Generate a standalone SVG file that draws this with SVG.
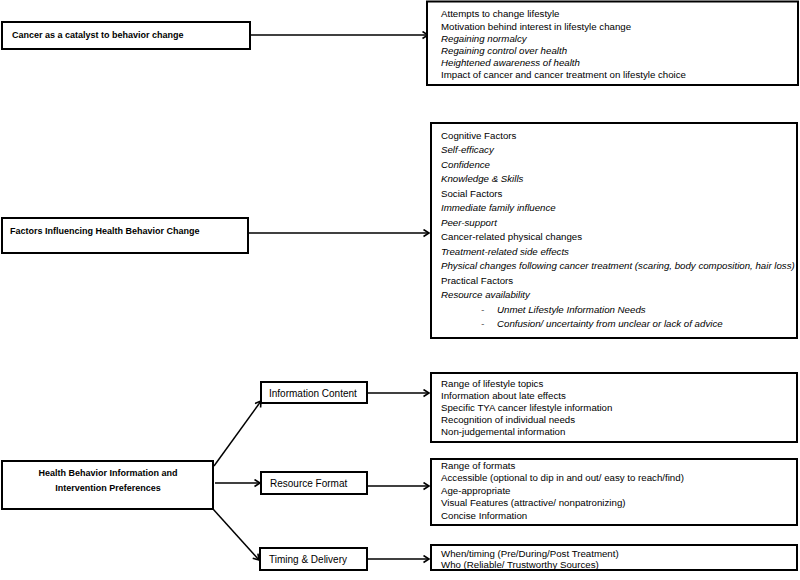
<svg xmlns="http://www.w3.org/2000/svg" width="800" height="580" viewBox="0 0 800 580">
<style>
.box{fill:#fff;stroke:#000;stroke-width:2}
.t{font-family:"Liberation Sans",Arial,sans-serif;font-size:9.7px;fill:#000}
.i{font-style:italic}
.b{font-family:"Liberation Sans",Arial,sans-serif;font-size:9px;font-weight:bold;fill:#000}
.s{font-family:"Liberation Sans",Arial,sans-serif;font-size:10px;fill:#000}
.c{stroke:#000;stroke-width:1.5;fill:none;marker-end:url(#ah)}
</style>
<defs>
<marker id="ah" markerUnits="userSpaceOnUse" markerWidth="10" markerHeight="10" refX="6.5" refY="4" orient="auto">
<path d="M1,0.5 L6.5,4 L1,7.5" fill="none" stroke="#000" stroke-width="1.6"/>
</marker>
</defs>
<rect width="800" height="580" fill="#fff"/>
<g id="connectors">
<line class="c" x1="250" y1="35" x2="428" y2="35"/>
<line class="c" x1="248" y1="233" x2="429" y2="233"/>
<line class="c" x1="214" y1="466" x2="261" y2="401"/>
<line class="c" x1="215" y1="483" x2="260" y2="483"/>
<line class="c" x1="213" y1="509" x2="259" y2="560"/>
<line class="c" x1="367" y1="393" x2="429" y2="393"/>
<line class="c" x1="367" y1="486" x2="429" y2="486"/>
<line class="c" x1="367" y1="559" x2="429" y2="559"/>
</g>
<g id="n-catalyst">
<rect class="box" x="2" y="22" width="248" height="27"/>
<text class="b" x="12" y="37.5">Cancer as a catalyst to behavior change</text>
</g>
<g id="n-catalyst-detail">
<rect class="box" x="427" y="1.5" width="371" height="83.5"/>
<text class="t" x="441" y="17">Attempts to change lifestyle</text>
<text class="t" x="441" y="29.5">Motivation behind interest in lifestyle change</text>
<text class="t i" x="441" y="41.5">Regaining normalcy</text>
<text class="t i" x="441" y="53.5">Regaining control over health</text>
<text class="t i" x="441" y="65.5">Heightened awareness of health</text>
<text class="t" x="441" y="77.5">Impact of cancer and cancer treatment on lifestyle choice</text>
</g>
<g id="n-factors">
<rect class="box" x="2" y="218" width="246" height="35"/>
<text class="b" x="10" y="233.5">Factors Influencing Health Behavior Change</text>
</g>
<g id="n-factors-detail">
<rect class="box" x="431" y="123" width="366" height="215"/>
<text class="t" x="441" y="138.5">Cognitive Factors</text>
<text class="t i" x="441" y="153">Self-efficacy</text>
<text class="t i" x="441" y="167.5">Confidence</text>
<text class="t i" x="441" y="182">Knowledge &amp; Skills</text>
<text class="t" x="441" y="196.5">Social Factors</text>
<text class="t i" x="441" y="211">Immediate family influence</text>
<text class="t i" x="441" y="225.5">Peer-support</text>
<text class="t" x="441" y="240">Cancer-related physical changes</text>
<text class="t i" x="441" y="254.5">Treatment-related side effects</text>
<text class="t i" x="441" y="269">Physical changes following cancer treatment (scaring, body composition, hair loss)</text>
<text class="t" x="441" y="283.5">Practical Factors</text>
<text class="t i" x="441" y="298">Resource availability</text>
<text class="t i" x="481" y="312.5">-</text>
<text class="t i" x="497" y="312.5">Unmet Lifestyle Information Needs</text>
<text class="t i" x="481" y="327">-</text>
<text class="t i" x="497" y="327">Confusion/ uncertainty from unclear or lack of advice</text>
</g>
<g id="n-preferences">
<rect class="box" x="2" y="461" width="211" height="48"/>
<text class="b" x="108" y="476" text-anchor="middle" font-size="9.2">Health Behavior Information and</text>
<text class="b" x="108" y="490.5" text-anchor="middle" font-size="9.2">Intervention Preferences</text>
</g>
<g id="n-info-content">
<rect class="box" x="261" y="382" width="106" height="21"/>
<text class="s" x="269" y="396.5">Information Content</text>
</g>
<g id="n-resource-format">
<rect class="box" x="261" y="472" width="106" height="22"/>
<text class="s" x="270" y="487">Resource Format</text>
</g>
<g id="n-timing">
<rect class="box" x="260" y="548" width="107" height="22"/>
<text class="s" x="269" y="563">Timing &amp; Delivery</text>
</g>
<g id="n-info-detail">
<rect class="box" x="431" y="373" width="366" height="69"/>
<text class="t" x="441" y="386.5">Range of lifestyle topics</text>
<text class="t" x="441" y="398.5">Information about late effects</text>
<text class="t" x="441" y="410.5">Specific TYA cancer lifestyle information</text>
<text class="t" x="441" y="422.5">Recognition of individual needs</text>
<text class="t" x="441" y="434.5">Non-judgemental information</text>
</g>
<g id="n-format-detail">
<rect class="box" x="431" y="459" width="366" height="66"/>
<text class="t" x="441" y="468.5">Range of formats</text>
<text class="t" x="441" y="481">Accessible (optional to dip in and out/ easy to reach/find)</text>
<text class="t" x="441" y="493.5">Age-appropriate</text>
<text class="t" x="441" y="506">Visual Features (attractive/ nonpatronizing)</text>
<text class="t" x="441" y="518.5">Concise Information</text>
</g>
<g id="n-timing-detail">
<rect class="box" x="431" y="545" width="366" height="25"/>
<text class="t" x="441" y="556.5">When/timing (Pre/During/Post Treatment)</text>
<text class="t" x="441" y="567.5">Who (Reliable/ Trustworthy Sources)</text>
</g>
</svg>
